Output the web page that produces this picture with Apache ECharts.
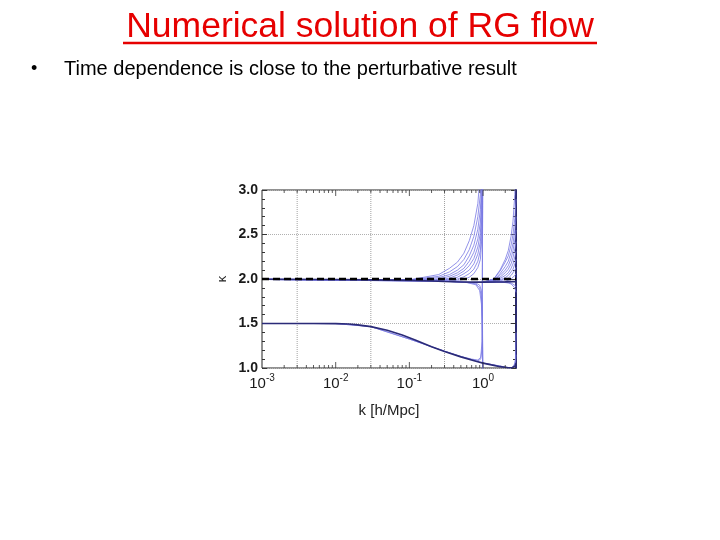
<!DOCTYPE html>
<html>
<head>
<meta charset="utf-8">
<script src="https://cdn.jsdelivr.net/npm/echarts@6/dist/echarts.min.js"></script>
<style>
html,body{margin:0;padding:0;background:#fff;}
#chart{width:720px;height:540px;}
</style>
</head>
<body>
<div id="chart"></div>
<script>
// ---- data ----
const yTicks = [1.0, 1.5, 2.0, 2.5, 3.0];
const xTickMajor = [0.01, 0.1, 1];
const xTickMinor = [0.002,0.003,0.004,0.005,0.006,0.007,0.008,0.009,
                    0.02,0.03,0.04,0.05,0.06,0.07,0.08,0.09,
                    0.2,0.3,0.4,0.5,0.6,0.7,0.8,0.9,2];
const xGridLines = [0.003, 0.03, 0.3];
const perturbativeK = [0.001, 2.8];
const perturbativeKappa = [2.0, 2.0];

const kFlat = [0.001, 0.01, 0.03, 0.1, 0.2, 0.3, 0.5, 0.8, 1.0, 1.5, 2.0, 2.5, 2.8];
const kappaUpperDark = [1.997, 1.995, 1.99, 1.984, 1.978, 1.972, 1.967, 1.965, 1.965, 1.966, 1.968, 1.97, 1.97];

const kLower = [0.001, 0.005, 0.01, 0.015, 0.02, 0.03, 0.05, 0.08, 0.12, 0.2, 0.3, 0.5, 0.8, 1.0, 1.3, 1.7, 2.2, 2.5, 2.7, 2.8];
const kappaLowerDark = [1.5, 1.5, 1.499, 1.494, 1.485, 1.465, 1.425, 1.37, 1.315, 1.24, 1.185, 1.125, 1.075, 1.055, 1.035, 1.015, 1.003, 1.005, 1.02, 1.05];

// light curves diverging upward at k = 1
const kRise = [0.001, 0.1, 0.25, 0.35, 0.45, 0.55, 0.65, 0.75, 0.85, 0.92, 0.97, 1.0];
const riseA1 = [1.997, 1.99, 2.05, 2.12, 2.19, 2.29, 2.43, 2.6, 2.85, 3.2, 3.6, 4.0];
const riseA2 = [1.997, 1.99, 2.03, 2.08, 2.14, 2.22, 2.33, 2.48, 2.7, 2.95, 3.4, 4.0];
const riseA3 = [1.997, 1.99, 2.015, 2.05, 2.1, 2.16, 2.26, 2.38, 2.56, 2.78, 3.2, 4.0];
const riseA4 = [1.996, 1.988, 2.0, 2.03, 2.07, 2.12, 2.2, 2.3, 2.45, 2.64, 3.0, 4.0];
const riseA5 = [1.996, 1.987, 1.99, 2.01, 2.045, 2.09, 2.15, 2.23, 2.36, 2.52, 2.85, 4.0];
const riseA6 = [1.996, 1.986, 1.985, 1.995, 2.02, 2.06, 2.1, 2.17, 2.28, 2.42, 2.72, 4.0];
const riseA7 = [1.995, 1.985, 1.982, 1.987, 2.0, 2.025, 2.06, 2.11, 2.2, 2.32, 2.6, 4.0];
const riseA8 = [1.995, 1.985, 1.98, 1.98, 1.985, 1.995, 2.02, 2.06, 2.13, 2.22, 2.5, 4.0];

// light curves dropping at k = 1
const kDrop = [0.001, 0.3, 0.6, 0.8, 0.9, 0.95, 0.98, 1.0];
const dropD1 = [1.995, 1.975, 1.965, 1.955, 1.93, 1.87, 1.7, 0.5];
const dropD2 = [1.995, 1.975, 1.962, 1.945, 1.9, 1.8, 1.55, 0.5];
const dropD3 = [1.995, 1.974, 1.96, 1.935, 1.87, 1.72, 1.4, 0.5];

// lower light curves rising at k = 1
const kLowRise = [0.001, 0.01, 0.03, 0.1, 0.3, 0.5, 0.7, 0.85, 0.93, 0.97, 1.0];
const lowRiseL1 = [1.5, 1.499, 1.465, 1.325, 1.19, 1.13, 1.1, 1.09, 1.12, 1.3, 4.0];
const lowRiseL2 = [1.5, 1.499, 1.465, 1.325, 1.188, 1.128, 1.095, 1.08, 1.1, 1.22, 4.0];

// light curves at the right edge
const kEdge = [1.0, 1.4, 1.7, 2.0, 2.2, 2.4, 2.55, 2.7, 2.8];
const edgeB0 = [1.965, 2.0, 2.1, 2.22, 2.32, 2.48, 2.65, 2.95, 3.6];
const edgeB1 = [1.965, 2.0, 2.09, 2.19, 2.26, 2.38, 2.5, 2.68, 2.9];
const edgeB2 = [1.965, 1.99, 2.06, 2.14, 2.2, 2.3, 2.4, 2.55, 2.7];
const edgeB3 = [1.965, 1.985, 2.04, 2.1, 2.15, 2.23, 2.32, 2.44, 2.55];
const edgeB4 = [1.965, 1.98, 2.02, 2.07, 2.11, 2.17, 2.24, 2.34, 2.42];
const edgeB5 = [1.965, 1.975, 2.005, 2.04, 2.07, 2.12, 2.17, 2.25, 2.31];
const edgeB6 = [1.965, 1.97, 1.99, 2.015, 2.04, 2.08, 2.11, 2.17, 2.22];
const edgeB7 = [1.965, 1.968, 1.98, 1.995, 2.01, 2.04, 2.06, 2.1, 2.13];
const edgeB8 = [1.965, 1.966, 1.97, 1.975, 1.985, 2.0, 2.02, 2.04, 2.06];
const edgeE1 = [1.965, 1.965, 1.965, 1.963, 1.96, 1.955, 1.945, 1.93, 1.91];
const edgeE2 = [1.965, 1.965, 1.964, 1.96, 1.955, 1.945, 1.93, 1.9, 1.85];

const kLowEdge = [1.0, 1.5, 2.0, 2.3, 2.5, 2.65, 2.75, 2.8];
const lowEdgeR1 = [1.055, 1.03, 1.01, 1.0, 1.0, 1.02, 1.06, 1.15];
const lowEdgeR2 = [1.055, 1.03, 1.01, 1.002, 1.005, 1.03, 1.1, 1.4];

// ---- build ----
const FONT = 'Liberation Sans';
const LIGHT = 'rgba(120,120,228,0.8)';
const DARK = '#2b2b78';
function pairs(xs, ys){ return xs.map((x,i)=>[x, ys[i]]); }
function lightLine(xs, ys){
  return {type:'line', data: pairs(xs, ys), showSymbol:false, symbol:'none',
    lineStyle:{color: LIGHT, width:1}, silent:true, z:2};
}
const series = [];
// dotted vertical grid lines at 3x10^n
xGridLines.forEach(function(g){
  series.push({type:'line', data:[[g, yTicks[0]], [g, yTicks[yTicks.length-1]]], symbol:'none', showSymbol:false,
    lineStyle:{type:'dotted', color:'#a0a0a0', width:1}, silent:true, z:1});
});
const lightSets = [
  [kRise, riseA1],[kRise, riseA2],[kRise, riseA3],[kRise, riseA4],
  [kRise, riseA5],[kRise, riseA6],[kRise, riseA7],[kRise, riseA8],
  [kDrop, dropD1],[kDrop, dropD2],[kDrop, dropD3],
  [kLowRise, lowRiseL1],[kLowRise, lowRiseL2],
  [kEdge, edgeB0],[kEdge, edgeB1],[kEdge, edgeB2],[kEdge, edgeB3],[kEdge, edgeB4],
  [kEdge, edgeB5],[kEdge, edgeB6],[kEdge, edgeB7],[kEdge, edgeB8],
  [kEdge, edgeE1],[kEdge, edgeE2],
  [kLowEdge, lowEdgeR1],[kLowEdge, lowEdgeR2]
];
lightSets.forEach(s => series.push(lightLine(s[0], s[1])));

series.push({type:'line', data: pairs(kFlat, kappaUpperDark), symbol:'none', showSymbol:false,
  lineStyle:{color: DARK, width:1.6}, silent:true, z:3});
series.push({type:'line', data: pairs(kLower, kappaLowerDark), symbol:'none', showSymbol:false,
  lineStyle:{color: DARK, width:1.6}, silent:true, z:3});
series.push({type:'line', data: pairs(perturbativeK, perturbativeKappa), symbol:'none', showSymbol:false,
  lineStyle:{color:'#000', width:2.4, type:[7,4]}, silent:true, z:4});

function tickSeries(list, yv, len, up){
  return {type:'scatter', data: list.map(k=>[k, yv]), symbol:'rect', symbolSize:[1, len],
    symbolOffset:[0, up ? -len/2 : len/2], itemStyle:{color:'#333'}, silent:true, z:5, clip:false};
}
series.push(tickSeries(xTickMinor, yTicks[0], 3, true));
series.push(tickSeries(xTickMajor, yTicks[0], 6, true));
series.push(tickSeries(xTickMinor, yTicks[yTicks.length-1], 3, false));
series.push(tickSeries(xTickMajor, yTicks[yTicks.length-1], 6, false));

const chart = echarts.init(document.getElementById('chart'), null, {renderer:'canvas'});
chart.setOption({
  animation:false,
  backgroundColor:'#fff',
  grid:{left:262, right:204, top:190, bottom:172, show:true, borderColor:'#222', borderWidth:1, backgroundColor:'transparent'},
  xAxis:{type:'log', logBase:10, min:0.001, max:2.8, interval:1,
    name:'k [h/Mpc]', nameLocation:'middle', nameGap:35,
    nameTextStyle:{fontFamily:FONT, fontSize:15, color:'#222'},
    axisLine:{show:false}, axisTick:{show:false}, splitLine:{show:false},
    axisLabel:{margin:5, showMaxLabel:false,
      formatter:function(v){
        const l = Math.log10(v); const e = Math.round(l);
        if (Math.abs(l-e) > 1e-6) return '';
        return '{b|10}{s|' + (e<0 ? '-' + (-e) : e) + '}';
      },
      rich:{
        b:{fontFamily:FONT, fontSize:15, color:'#1a1a1a', lineHeight:22, verticalAlign:'middle'},
        s:{fontFamily:FONT, fontSize:10, color:'#1a1a1a', lineHeight:10, verticalAlign:'top'}
      }}
  },
  yAxis:[
    {type:'value', min:yTicks[0], max:yTicks[yTicks.length-1], interval:0.5,
      name:'κ', nameLocation:'middle', nameGap:33, nameRotate:90,
      nameTextStyle:{fontFamily:FONT, fontSize:13, color:'#222'},
      axisLine:{show:false},
      axisTick:{show:true, inside:true, length:5, lineStyle:{color:'#333'}},
      minorTick:{show:true, splitNumber:5, length:3, lineStyle:{color:'#333'}},
      splitLine:{show:true, lineStyle:{type:'dotted', color:'#b0b0b0'}},
      axisLabel:{margin:4, fontFamily:FONT, fontSize:14, fontWeight:'bold', color:'#1a1a1a',
        formatter:function(v){ return v.toFixed(1); }}
    },
    {type:'value', min:yTicks[0], max:yTicks[yTicks.length-1], interval:0.5, position:'right',
      axisLine:{show:true, lineStyle:{color:'#2a2a70', width:2}},
      axisTick:{show:true, inside:true, length:5, lineStyle:{color:'#333'}},
      minorTick:{show:true, splitNumber:5, length:3, lineStyle:{color:'#333'}},
      splitLine:{show:false}, axisLabel:{show:false}
    }
  ],
  graphic:[
    {type:'text', x:360, y:27, style:{text:'Numerical solution of RG flow', font:'35.5px "Liberation Sans"', fill:'#e60000', align:'center', verticalAlign:'middle'}},
    {type:'line', shape:{x1:123, y1:43, x2:597, y2:43}, style:{stroke:'#e60000', lineWidth:2.5}},
    {type:'text', x:31, y:69, style:{text:'•', font:'18px "Liberation Sans"', fill:'#000', align:'left', verticalAlign:'middle'}},
    {type:'text', x:64, y:69, style:{text:'Time dependence is close to the perturbative result', font:'20px "Liberation Sans"', fill:'#000', align:'left', verticalAlign:'middle'}}
  ],
  series: series
});
</script>
</body>
</html>
